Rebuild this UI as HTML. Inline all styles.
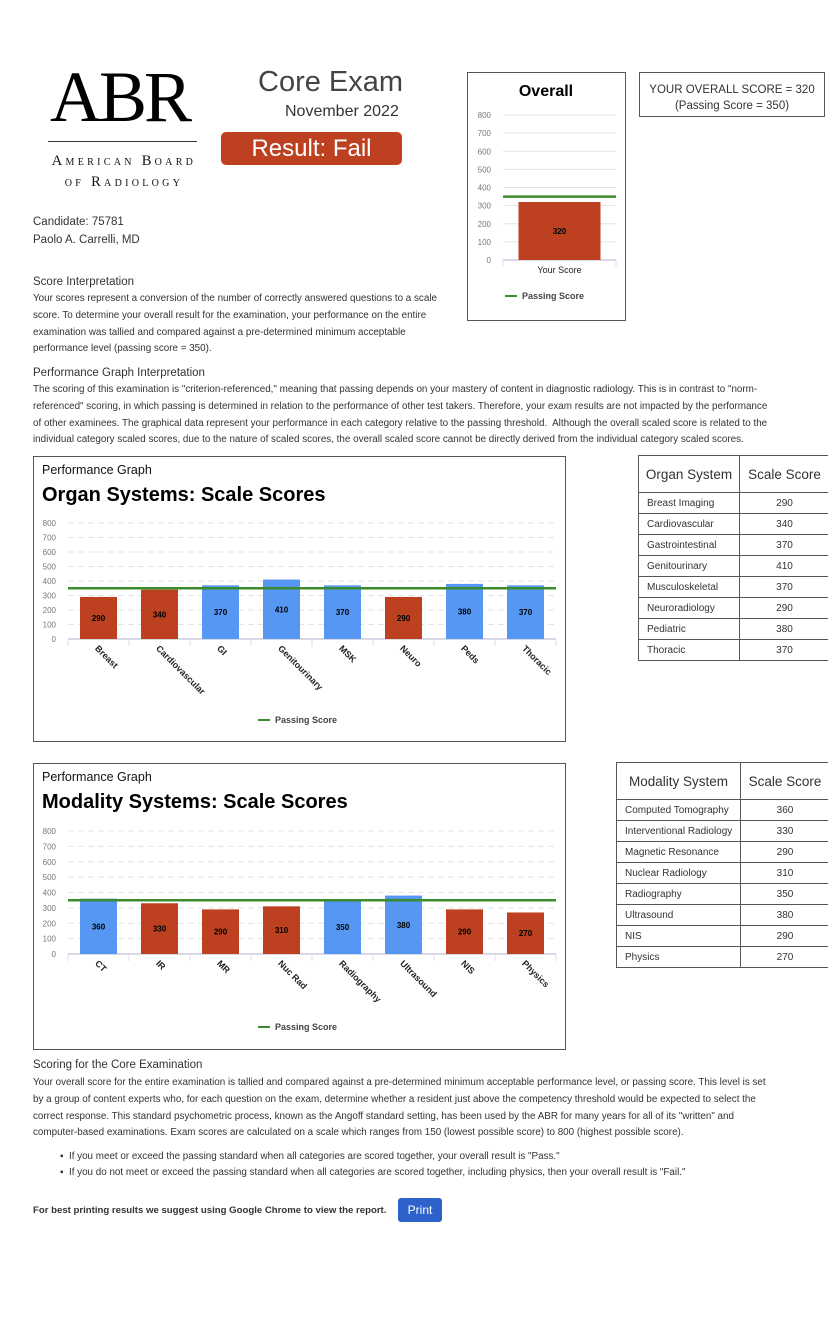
<!DOCTYPE html>
<html><head><meta charset="utf-8"><style>
body{margin:0;width:828px;height:1340px;background:#fff;font-family:"Liberation Sans",sans-serif;color:#333;position:relative;overflow:hidden}
.a{position:absolute;white-space:nowrap}
.p{font-size:9.85px;line-height:16.8px;color:#333}
.h{font-size:11.5px;color:#333}
table{border-collapse:collapse;position:absolute;font-size:10px;color:#333;table-layout:fixed}
td,th{border:1px solid #555;padding:0 8px;font-weight:normal;white-space:nowrap;overflow:hidden}
th{font-size:13.5px;height:36px;text-align:center;padding:0 4px}
td{height:20px}
td+td{text-align:center}
</style></head><body>
<div class="a" style="left:50px;top:56px;font-family:'Liberation Serif',serif;font-size:72px;color:#000;letter-spacing:-3px">ABR</div>
<div class="a" style="left:48px;top:141px;width:149px;height:1px;background:#333"></div>
<div class="a" style="left:36px;top:151px;font-family:'Liberation Serif',serif;font-size:14.5px;letter-spacing:3.3px;color:#111;text-align:center;line-height:21px;width:176px;font-variant:small-caps">American Board<br>of Radiology</div>
<div class="a" style="left:258px;top:66px;font-size:29px;color:#444">Core Exam</div>
<div class="a" style="left:285px;top:103px;font-size:16px;color:#333">November 2022</div>
<div class="a" style="left:221px;top:132px;width:181px;height:33px;background:#BD4020;border-radius:5px;color:#fff;font-size:24px;text-align:center;line-height:33px">Result: Fail</div>
<div class="a" style="left:33px;top:216px;font-size:11.5px">Candidate: 75781</div>
<div class="a" style="left:33px;top:234px;font-size:11.5px">Paolo A. Carrelli, MD</div>

<div class="a h" style="left:33px;top:276px">Score Interpretation</div>
<div class="a p" style="left:33px;top:291px">Your scores represent a conversion of the number of correctly answered questions to a scale<br>score. To determine your overall result for the examination, your performance on the entire<br>examination was tallied and compared against a pre-determined minimum acceptable<br>performance level (passing score = 350).</div>
<div class="a h" style="left:33px;top:367px">Performance Graph Interpretation</div>
<div class="a p" style="left:33px;top:382px">The scoring of this examination is "criterion-referenced," meaning that passing depends on your mastery of content in diagnostic radiology. This is in contrast to "norm-<br>referenced" scoring, in which passing is determined in relation to the performance of other test takers. Therefore, your exam results are not impacted by the performance<br>of other examinees. The graphical data represent your performance in each category relative to the passing threshold.&nbsp; Although the overall scaled score is related to the<br>individual category scaled scores, due to the nature of scaled scores, the overall scaled score cannot be directly derived from the individual category scaled scores.</div>

<div class="a" style="left:639px;top:72px;width:186px;height:45px;border:1px solid #555;font-size:11.5px;text-align:center;line-height:16px;padding-top:9px;box-sizing:border-box">YOUR OVERALL SCORE = 320<br>(Passing Score = 350)</div>

<svg class="a" style="left:467px;top:72px" width="159" height="249" id="ov"></svg>
<svg class="a" style="left:33px;top:456px" width="533" height="286" id="org"></svg>
<svg class="a" style="left:33px;top:763px" width="533" height="287" id="mod"></svg>

<table style="left:638px;top:455px;width:191px">
<colgroup><col style="width:101px"><col style="width:90px"></colgroup>
<tr><th>Organ System</th><th>Scale Score</th></tr>
<tr><td>Breast Imaging</td><td>290</td></tr><tr><td>Cardiovascular</td><td>340</td></tr><tr><td>Gastrointestinal</td><td>370</td></tr><tr><td>Genitourinary</td><td>410</td></tr><tr><td>Musculoskeletal</td><td>370</td></tr><tr><td>Neuroradiology</td><td>290</td></tr><tr><td>Pediatric</td><td>380</td></tr><tr><td>Thoracic</td><td>370</td></tr>
</table>
<table style="left:616px;top:762px;width:213px">
<colgroup><col style="width:124px"><col style="width:89px"></colgroup>
<tr><th>Modality System</th><th>Scale Score</th></tr>
<tr><td>Computed Tomography</td><td>360</td></tr><tr><td>Interventional Radiology</td><td>330</td></tr><tr><td>Magnetic Resonance</td><td>290</td></tr><tr><td>Nuclear Radiology</td><td>310</td></tr><tr><td>Radiography</td><td>350</td></tr><tr><td>Ultrasound</td><td>380</td></tr><tr><td>NIS</td><td>290</td></tr><tr><td>Physics</td><td>270</td></tr>
</table>

<div class="a h" style="left:33px;top:1059px">Scoring for the Core Examination</div>
<div class="a p" style="left:33px;top:1075px">Your overall score for the entire examination is tallied and compared against a pre-determined minimum acceptable performance level, or passing score. This level is set<br>by a group of content experts who, for each question on the exam, determine whether a resident just above the competency threshold would be expected to select the<br>correct response. This standard psychometric process, known as the Angoff standard setting, has been used by the ABR for many years for all of its "written" and<br>computer-based examinations. Exam scores are calculated on a scale which ranges from 150 (lowest possible score) to 800 (highest possible score).</div>
<div class="a p" style="left:60px;top:1149px">▪&nbsp;&nbsp;If you meet or exceed the passing standard when all categories are scored together, your overall result is "Pass."</div>
<div class="a p" style="left:60px;top:1165px">▪&nbsp;&nbsp;If you do not meet or exceed the passing standard when all categories are scored together, including physics, then your overall result is "Fail."</div>
<div class="a" style="left:33px;top:1205px;font-size:9.6px;font-weight:bold;color:#333">For best printing results we suggest using Google Chrome to view the report.</div>
<div class="a" style="left:398px;top:1198px;width:44px;height:24px;background:#2c62c9;border-radius:3px;color:#fff;font-size:12px;text-align:center;line-height:24px">Print</div>

<script>
const passScore = 350;
const ticks = [0,100,200,300,400,500,600,700,800];
const overallCats = ["Your Score"];
const overallVals = [320];
const organCats = ["Breast","Cardiovascular","GI","Genitourinary","MSK","Neuro","Peds","Thoracic"];
const organVals = [290,340,370,410,370,290,380,370];
const modCats = ["CT","IR","MR","Nuc Rad","Radiography","Ultrasound","NIS","Physics"];
const modVals = [360,330,290,310,350,380,290,270];
const NS="http://www.w3.org/2000/svg";
function mk(svg,tag,at,txt){const e=document.createElementNS(NS,tag);for(const k in at)e.setAttribute(k,at[k]);if(txt!==undefined)e.textContent=txt;svg.appendChild(e);return e;}
function chart(id,cats,vals,o){
  const svg=document.getElementById(id);
  const y=v=>o.y0-(v/800)*(o.y0-o.y800);
  const bw=(o.x1-o.x0)/cats.length;
  const x=i=>o.x0+bw*(i+0.5);
  mk(svg,'rect',{x:0.5,y:0.5,width:svg.getAttribute('width')-1,height:svg.getAttribute('height')-1,fill:'#fff',stroke:'#555'});
  ticks.forEach(t=>{
    if(t>0){const g=mk(svg,'line',{x1:o.x0,x2:o.x1,y1:y(t),y2:y(t),stroke:'#e4e4e4','stroke-dasharray':o.dash?'6,4':'none'});}
    const l=mk(svg,'text',{x:o.x0-12,y:y(t)+3,'font-size':8,fill:'#777','text-anchor':'end'},t);
    
    
  });
  mk(svg,'line',{x1:o.x0,x2:o.x1,y1:o.y0,y2:o.y0,stroke:'#ccd',"stroke-width":1.5});
  for(let i=0;i<=cats.length;i++)mk(svg,'line',{x1:o.x0+bw*i,x2:o.x0+bw*i,y1:o.y0,y2:o.y0+7,stroke:'#dde'});
  cats.forEach((c,i)=>{
    const v=vals[i];
    const b=mk(svg,'rect',{x:x(i)-o.bar/2,y:y(v),width:o.bar,height:o.y0-y(v),fill:v<passScore?'#BD4020':'#5597F2'});
    
    
    const t=mk(svg,'text',{x:x(i),y:(y(v)+o.y0)/2+3,'font-size':8,'font-weight':'bold',fill:'#000','text-anchor':'middle'},v);
    
    
    let lb;
    if(o.rot){lb=mk(svg,'text',{x:x(i)-4,y:o.y0+10,'font-size':9,'font-weight':'bold',fill:'#222',transform:`rotate(45 ${x(i)-4} ${o.y0+10})`},c);}
    else{lb=mk(svg,'text',{x:x(i),y:o.y0+13,'font-size':9,fill:'#222','text-anchor':'middle'},c);}
    
    
  });
  const p=mk(svg,'line',{x1:o.x0,x2:o.x1,y1:y(passScore),y2:y(passScore),stroke:'#3C8B2E','stroke-width':2.5});
  
  
  mk(svg,'line',{x1:o.lx,x2:o.lx+12,y1:o.ly-3,y2:o.ly-3,stroke:'#3C8B2E','stroke-width':2});
  const lt=mk(svg,'text',{x:o.lx+17,y:o.ly,'font-size':9,'font-weight':'bold',fill:'#444'},'Passing Score');
  
  
  if(o.sub){const s=mk(svg,'text',{x:9,y:18,'font-size':12.5,fill:'#111'},o.sub);}
  if(o.title){const s=mk(svg,'text',{x:o.tx,y:o.ty,'font-size':o.ts,'font-weight':'bold',fill:'#000','text-anchor':o.ta||'start'},o.title);}
}
chart('ov',overallCats,overallVals,{x0:36,x1:149,y0:188,y800:43,bar:82,lx:38,ly:227,title:'Overall',tx:79,ty:24,ts:16,ta:'middle'});
chart('org',organCats,organVals,{x0:35,x1:523,y0:183,y800:67,bar:37,rot:1,dash:1,lx:225,ly:267,sub:'Performance Graph',title:'Organ Systems: Scale Scores',tx:9,ty:45,ts:20});
chart('mod',modCats,modVals,{x0:35,x1:523,y0:191,y800:68,bar:37,rot:1,dash:1,lx:225,ly:267,sub:'Performance Graph',title:'Modality Systems: Scale Scores',tx:9,ty:45,ts:20});
</script>
</body></html>
